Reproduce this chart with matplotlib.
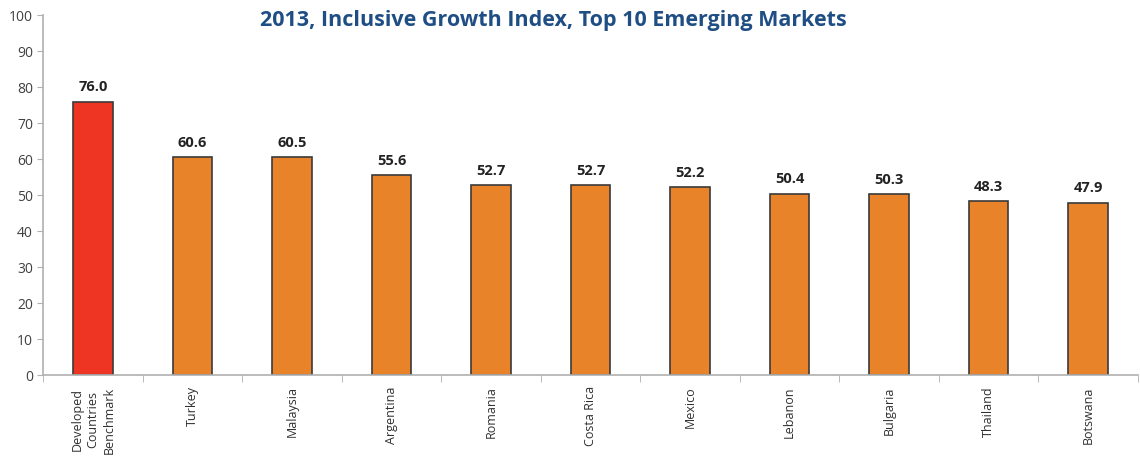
import matplotlib
matplotlib.use("Agg")
import matplotlib.pyplot as plt
import numpy as np

plt.rcParams["font.family"] = ["Open Sans", "DejaVu Sans"]

categories = ["Developed\nCountries\nBenchmark", "Turkey", "Malaysia", "Argentina",
              "Romania", "Costa Rica", "Mexico", "Lebanon", "Bulgaria",
              "Thailand", "Botswana"]
scores = [76.0, 60.6, 60.5, 55.6, 52.7, 52.7, 52.2, 50.4, 50.3, 48.3, 47.9]
bar_colors = ["#EE3524"] + ["#E8832A"] * 10
y_ticks = list(range(0, 101, 10))

fig = plt.figure(figsize=(11.4, 4.57), dpi=100)
ax = fig.add_axes([0.038, 0.179, 0.960, 0.788])

x = np.arange(len(categories))
ax.bar(x, scores, width=0.4, color=bar_colors, edgecolor="#3a3a3a", linewidth=1.2)

for xi, v in zip(x, scores):
    ax.text(xi, v + 2.0, f"{v:.1f}", ha="center", va="bottom",
            fontsize=10.5, fontweight="bold", color="#222222")

ax.set_xlim(-0.5, len(categories) - 0.5)
ax.set_ylim(0, 100)
ax.set_yticks(y_ticks)
ax.tick_params(axis="y", labelsize=10, colors="#404040", length=4, color="#b0b0b0")

ax.set_xticks(x)
ax.set_xticklabels(categories, rotation=90, fontsize=9, color="#303030",
                   ha="center", va="top", multialignment="center", linespacing=1.3)
ax.set_xticks(np.arange(-0.5, len(categories), 1.0), minor=True)
ax.tick_params(axis="x", which="major", length=0, pad=8)
ax.tick_params(axis="x", which="minor", length=5, color="#b0b0b0")

for side in ("top", "right"):
    ax.spines[side].set_visible(False)
for side in ("left", "bottom"):
    ax.spines[side].set_color("#b0b0b0")
    ax.spines[side].set_linewidth(1.2)

fig.text(0.485, 0.955, "2013, Inclusive Growth Index, Top 10 Emerging Markets",
         ha="center", va="center", fontsize=15.5, fontweight="bold",
         color="#1F4E85")

fig.savefig("out.png", dpi=100)
